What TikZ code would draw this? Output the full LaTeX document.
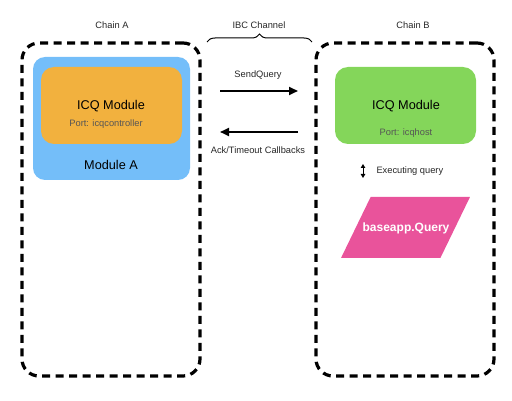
\documentclass[tikz,border=0pt]{standalone}
\usepackage{fontspec}
\setmainfont{Liberation Sans}
\usetikzlibrary{arrows.meta, shapes.geometric, decorations.pathreplacing}

\definecolor{moduleblue}{HTML}{74BEF9}
\definecolor{icqorange}{HTML}{F2B13E}
\definecolor{icqgreen}{HTML}{84D65A}
\definecolor{querypink}{HTML}{E9539B}
\definecolor{porttext}{HTML}{555555}

\begin{document}
\begin{tikzpicture}[x=1pt, y=-1pt,
    chainbox/.style={draw, line width=3.2pt, dash pattern=on 8pt off 5.5pt, rounded corners=17pt, minimum width=178pt, minimum height=333pt},
    modbox/.style={rounded corners=13pt, minimum width=141pt, minimum height=77pt},
    small/.style={font=\fontsize{9.3}{11}\selectfont, text=black!85},
    big/.style={font=\fontsize{12.7}{15}\selectfont},
    flow/.style={line width=2.2pt, -{Triangle[length=9pt,width=8pt]}}]
    \useasboundingbox (0,0) rectangle (512,401);

    \node[small] at (112, 25) (chainAtext) {Chain A};
    \node[small] at (259, 25) (ibctext) {IBC Channel};
    \node[small] at (413, 25) (chainBtext) {Chain B};
    \coordinate (braceL) at (207, 42);
    \coordinate (braceR) at (312, 42);
    \draw[line width=1pt, decorate, decoration={brace, amplitude=8pt}] (braceL) -- (braceR);

    \node[chainbox] at (111, 209.5) (chainA) {};
    \node[chainbox] at (405, 209.5) (chainB) {};

    % chain A
    \node[fill=moduleblue, rounded corners=12pt, minimum width=157pt, minimum height=123pt] at (111.5, 118.5) (modA) {};
    \node[modbox, fill=icqorange] at (111.5, 105.5) (icqA) {};
    \node[big] at (111, 106) (icqAtext) {ICQ Module};
    \node[small, text=porttext] at (106, 124) (portA) {Port: icqcontroller};
    \node[big] at (111, 165) (modAtext) {Module A};

    % channel
    \coordinate (sendstart) at (220, 91);
    \coordinate (sendend) at (298, 91);
    \coordinate (ackstart) at (298, 132);
    \coordinate (ackend) at (220, 132);
    \node[small] at (258, 75) (sendtext) {SendQuery};
    \draw[flow] (sendstart) -- (sendend);
    \draw[flow] (ackstart) -- (ackend);
    \node[small] at (258, 150) (acktext) {Ack/Timeout Callbacks};

    % chain B
    \node[modbox, fill=icqgreen] at (405.5, 105.5) (icqB) {};
    \node[big] at (406, 106) (icqBtext) {ICQ Module};
    \node[small, text=porttext] at (406, 133) (portB) {Port: icqhost};
    \coordinate (exectop) at (363, 164);
    \coordinate (execbot) at (363, 178);
    \draw[line width=1pt, {Triangle[length=4pt,width=4.5pt]}-{Triangle[length=4pt,width=4.5pt]}] (exectop) -- (execbot);
    \node[small, anchor=west] at (373, 171) (exectext) {Executing query};
    \node[trapezium, trapezium left angle=67, trapezium right angle=113, trapezium stretches=true, fill=querypink, minimum width=129pt, minimum height=61pt] at (405.5, 227.5) (query) {};
    \node[font=\fontsize{12}{14}\selectfont\bfseries, text=white] at (406, 228) (querytext) {baseapp.Query};
\end{tikzpicture}
\end{document}
